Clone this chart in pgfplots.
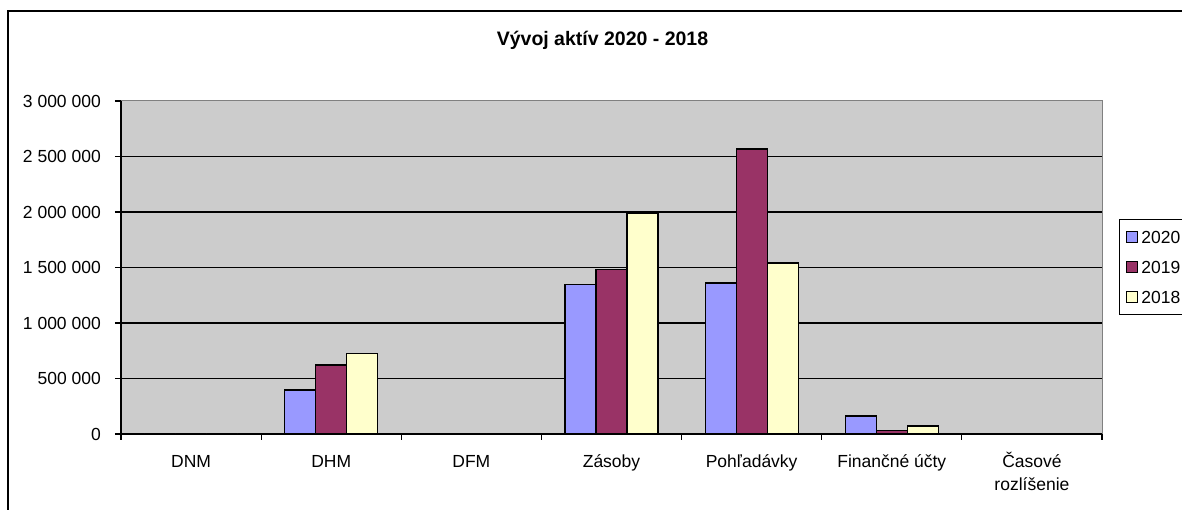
\documentclass[border=0pt]{standalone}
\usepackage{pgfplots}
\pgfplotsset{compat=1.18}
\usepackage{fontspec}
\setmainfont{Liberation Sans}
\definecolor{bgGray}{HTML}{CCCCCC}
\definecolor{brdGray}{HTML}{808080}
\definecolor{cBlue}{HTML}{9999FF}
\definecolor{cPurple}{HTML}{993366}
\definecolor{cCream}{HTML}{FFFFCC}
\begin{document}
\begin{tikzpicture}[x=1pt,y=1pt]
\useasboundingbox (0,0) rectangle (1182,510);
\fill[white] (0,0) rectangle (1182,510);
\node[anchor=base, font=\bfseries\fontsize{19.5}{23}\selectfont] at (602.5,464) {Vývoj aktív 2020 - 2018};
\begin{axis}[
  at={(121pt,76pt)}, anchor=south west,
  scale only axis, width=981pt, height=333pt,
  xmin=-0.5, xmax=6.5, ymin=0, ymax=3000000,
  axis lines*=left,
  axis line style={line width=1.2pt, black},
  axis background/.style={fill=bgGray, draw=brdGray, line width=1pt},
  ybar=0pt, bar width=31pt,
  tick align=outside, major tick length=6pt,
  tick style={line width=1.1pt, black},
  xtick={-0.5,0.5,...,6.5}, xticklabels={,,,,,,,,},
  extra x ticks={0,1,2,3,4,5,6},
  extra x tick labels={DNM,DHM,DFM,Zásoby,Pohľadávky,Finančné účty,{\begin{tabular}[t]{@{}c@{}}Časové\\rozlíšenie\end{tabular}}},
  extra x tick style={major tick length=0pt, grid=none,
    xticklabel style={anchor=base, yshift=-34pt, inner sep=0pt, font=\fontsize{17.5}{22.4}\selectfont}},
  ytick={0,500000,1000000,1500000,2000000,2500000},
  yticklabels={0,500 000,1 000 000,1 500 000,2 000 000,2 500 000},
  extra y ticks={3000000}, extra y tick labels={3 000 000},
  extra y tick style={grid=none},
  scaled y ticks=false,
  yticklabel style={anchor=east, xshift=-14pt, inner sep=0pt, font=\fontsize{17.5}{21}\selectfont},
  ymajorgrids, grid style={line width=1.1pt, black},
  legend style={at={(1.0173,0.6456)}, anchor=north west, draw=black, line width=1pt, fill=white,
    font=\fontsize{17.5}{21}\selectfont, inner xsep=7pt, inner ysep=11pt, row sep=17.5pt,
    nodes={inner xsep=3pt, inner ysep=0pt, text height=12.5pt, text depth=0pt}},
  legend cell align=left,
  legend image code/.code={\draw[#1, draw=black, line width=1pt] (0pt,-5.5pt) rectangle (11pt,5.5pt);},
]
\addplot[fill=cBlue, draw=black, line width=1.2pt] coordinates {(0,0) (1,396000) (2,0) (3,1349000) (4,1360000) (5,162000) (6,5000)};
\addlegendentry{2020}
\addplot[fill=cPurple, draw=black, line width=1.2pt] coordinates {(0,0) (1,622000) (2,0) (3,1484000) (4,2568000) (5,30000) (6,5000)};
\addlegendentry{2019}
\addplot[fill=cCream, draw=black, line width=1.2pt] coordinates {(0,0) (1,723000) (2,0) (3,1988000) (4,1541000) (5,72000) (6,5000)};
\addlegendentry{2018}
\end{axis}
\draw[line width=1.3pt] (8,499) rectangle (1230,-40);
\end{tikzpicture}
\end{document}
